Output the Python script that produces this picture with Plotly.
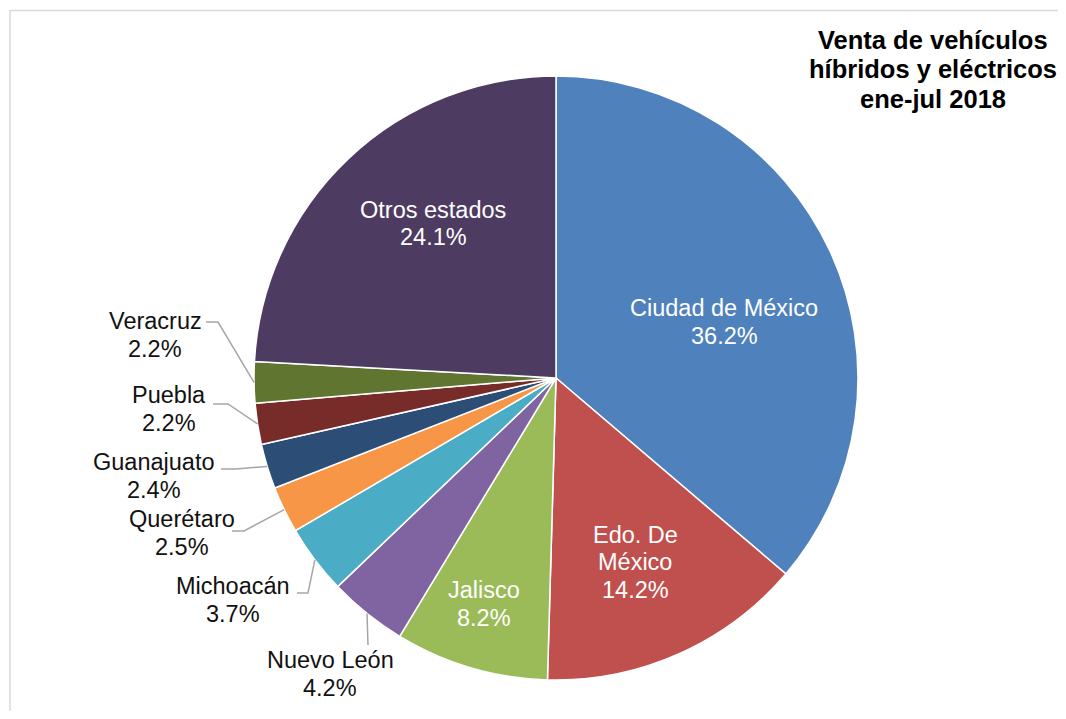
import math
import plotly.graph_objects as go

# page body has an 8px margin: the figure is drawn at (8, 8)
OFF = 8
W, H = 1066 - OFF, 719 - 2 * OFF

# ---- data ----
states = ["Ciudad de México", "Edo. De México", "Jalisco", "Nuevo León", "Michoacán",
          "Querétaro", "Guanajuato", "Puebla", "Veracruz", "Otros estados"]
shares = [36.2, 14.2, 8.2, 4.2, 3.7, 2.5, 2.4, 2.2, 2.2, 24.1]
label_lines = [["Ciudad de México"], ["Edo. De", "México"], ["Jalisco"], ["Nuevo León"],
               ["Michoacán"], ["Querétaro"], ["Guanajuato"], ["Puebla"], ["Veracruz"],
               ["Otros estados"]]
colors = ["#4F81BD", "#C0504D", "#9BBB59", "#8064A2", "#4BACC6",
          "#F79646", "#2C4D75", "#772C2A", "#5F7530", "#4D3B62"]
title_lines = ["Venta de vehículos", "híbridos y eléctricos", "ene-jul 2018"]

# ---- layout (page pixels) ----
CX, CY, R = 556, 378, 302
LINE_H = 27.5
FONT = "Liberation Sans, Arial, sans-serif"
# label block centre positions (page pixel) and whether inside
label_pos = {
    "Ciudad de México": (724, 322, True),
    "Edo. De México": (635, 562, True),
    "Jalisco": (484, 604, True),
    "Nuevo León": (330, 674, False),
    "Michoacán": (233, 600, False),
    "Querétaro": (182, 533, False),
    "Guanajuato": (154, 476, False),
    "Puebla": (169, 409, False),
    "Veracruz": (155, 335, False),
    "Otros estados": (433, 223.5, True),
}
# leader line points from the text end towards the pie edge
leaders = {
    "Veracruz": [(206, 322), (218, 322)],
    "Puebla": [(213, 404), (228, 404)],
    "Guanajuato": [(221, 469), (236, 469)],
    "Querétaro": [(232, 531), (244, 531)],
    "Michoacán": [(297, 593), (308, 593)],
    "Nuevo León": [(368, 645)],
}


def px(x):
    return (x - OFF) / W


def py(y):
    return 1 - (y - OFF) / H


fig = go.Figure()
fig.add_trace(go.Pie(
    labels=states, values=shares, sort=False, direction="clockwise", rotation=0,
    marker=dict(colors=colors, line=dict(color="white", width=1.5)),
    textinfo="none", hoverinfo="label+percent", showlegend=False,
    domain=dict(x=[px(CX - R), px(CX + R)], y=[py(CY + R), py(CY - R)]),
))

total = sum(shares)
annotations = []
shapes = []
cum = 0.0
for name, val, lines in zip(states, shares, label_lines):
    mid = (cum + val / 2) / total * 360.0
    cum += val
    lx, ly, inside = label_pos[name]
    all_lines = lines + [f"{val:.1f}%"]
    n = len(all_lines)
    for i, t in enumerate(all_lines):
        yy = ly + (i - (n - 1) / 2) * LINE_H
        annotations.append(dict(
            x=px(lx), y=py(yy), xref="paper", yref="paper", showarrow=False,
            text=t, align="center", xanchor="center", yanchor="middle",
            font=dict(family=FONT, size=23.5, color="white" if inside else "#111111"),
        ))
    if name in leaders:
        ex = CX + R * math.sin(math.radians(mid))
        ey = CY - R * math.cos(math.radians(mid))
        pts = leaders[name] + [(ex, ey)]
        path = "M " + " L ".join(f"{px(x):.5f},{py(y):.5f}" for x, y in pts)
        shapes.append(dict(type="path", xref="paper", yref="paper", path=path,
                           line=dict(color="#A6A6A6", width=1.5)))

# chart border
shapes.append(dict(type="rect", xref="paper", yref="paper",
                   x0=px(10), x1=1.02, y0=-0.02, y1=py(10.5),
                   line=dict(color="#D9D9D9", width=1.5)))

for i, t in enumerate(title_lines):
    annotations.append(dict(
        x=px(933), y=py(40 + i * 29.5), xref="paper", yref="paper", showarrow=False,
        text=f"<b>{t}</b>", align="center", xanchor="center", yanchor="middle",
        font=dict(family=FONT, size=25.5, color="black"),
    ))

fig.update_layout(
    width=W, height=H, margin=dict(l=0, r=0, t=0, b=0),
    paper_bgcolor="white", plot_bgcolor="white",
    annotations=annotations, shapes=shapes,
)
fig.write_html("out.html")
